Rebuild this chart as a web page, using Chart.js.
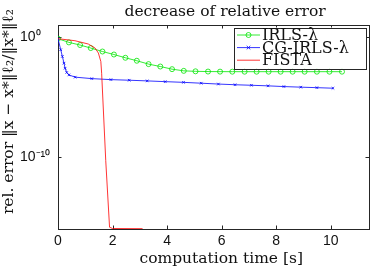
<!DOCTYPE html>
<html>
<head>
<meta charset="utf-8">
<script src="https://cdn.jsdelivr.net/npm/chart.js@4.4.0/dist/chart.umd.min.js"></script>
<style>
  html, body { margin: 0; padding: 0; background: #fff; }
  canvas { display: block; }
</style>
</head>
<body>
<canvas id="chart_err" width="374" height="269"></canvas>
<script>
// values (time in s, relative error)
var irlsTime = [0, 0.40, 0.81, 1.20, 1.63, 2.05, 2.47, 2.89, 3.32, 3.75, 4.18, 4.61, 5.04, 5.50, 5.94, 6.39, 6.84, 7.28, 7.72, 8.16, 8.60, 9.04, 9.49, 9.95, 10.41];
var irlsErr = [0.72, 0.355, 0.214, 0.12, 0.0617, 0.0347, 0.0186, 0.0105, 0.0055, 0.00347, 0.00209, 0.00151, 0.00138, 0.00132, 0.0013, 0.00129, 0.00129, 0.00129, 0.00129, 0.00129, 0.00129, 0.00129, 0.00129, 0.00129, 0.00129];

var cgTime = [0, 0.10, 0.16, 0.22, 0.26, 0.32, 0.40, 0.63, 1.24, 1.94, 2.61, 3.27, 3.93, 4.60, 5.25, 5.88, 6.49, 7.09, 7.70, 8.28, 8.90, 9.49, 10.08];
var cgErr = [0.72, 0.087, 0.024, 0.0066, 0.0025, 0.0011, 6.9e-4, 4.5e-4, 3.4e-4, 2.8e-4, 2.5e-4, 2.2e-4, 1.9e-4, 1.66e-4, 1.41e-4, 1.2e-4, 1.05e-4, 9.5e-5, 8.5e-5, 7.4e-5, 6.6e-5, 6.0e-5, 5.4e-5];

var fistaTime = [0, 0.62, 1.11, 1.36, 1.48, 1.57, 1.60, 1.75, 1.89, 2.0, 3.1];
var fistaErr = [0.72, 0.49, 0.26, 0.12, 0.046, 0.0091, 9.5e-4, 5e-11, 1.4e-16, 1.1e-16, 1.07e-16];

var seriesNames = ['IRLS-\u03bb', 'CG-IRLS-\u03bb', 'FISTA'];
var xTicks = [0, 2, 4, 6, 8, 10];
var yTicks = [1e-10, 1];
var yTickLabels = ['10\u207b\u00b9\u2070', '10\u2070'];

var serif = '"DejaVu Serif", serif';
var sans = '"Liberation Sans", Arial, sans-serif';
var axisColor = '#262626';

function pts(xs, ys) {
    return xs.map(function (x, i) {
        return { x: x, y: ys[i] };
    });
}

// box around the axes plus inward ticks on all four sides
const frame = {
    id: 'frame',
    beforeDatasetsDraw(chart) {
        const ctx = chart.ctx;
        const a = chart.chartArea;
        const sx = chart.scales.x;
        const sy = chart.scales.y;
        const tl = 3.5;
        ctx.save();
        ctx.strokeStyle = axisColor;
        ctx.lineWidth = 1;
        ctx.strokeRect(a.left + 0.5, a.top + 0.5, a.right - a.left, a.bottom - a.top);
        ctx.beginPath();
        xTicks.forEach(function (v) {
            const px = Math.round(sx.getPixelForValue(v)) + 0.5;
            ctx.moveTo(px, a.bottom);
            ctx.lineTo(px, a.bottom - tl);
            ctx.moveTo(px, a.top);
            ctx.lineTo(px, a.top + tl);
        });
        yTicks.forEach(function (v) {
            const py = Math.round(sy.getPixelForValue(v)) + 0.5;
            ctx.moveTo(a.left, py);
            ctx.lineTo(a.left + tl, py);
            ctx.moveTo(a.right, py);
            ctx.lineTo(a.right - tl, py);
        });
        ctx.stroke();
        ctx.restore();
    }
};

// matlab style legend box in the upper right corner
const legendBox = {
    id: 'legendBox',
    afterDraw(chart) {
        const ctx = chart.ctx;
        const a = chart.chartArea;
        const w = 132, h = 41;
        const left = a.right - 3 - w;
        const top = a.top + 2.5;
        ctx.save();
        ctx.fillStyle = '#fff';
        ctx.fillRect(left, top, w, h);
        ctx.strokeStyle = axisColor;
        ctx.lineWidth = 1;
        ctx.strokeRect(Math.round(left) + 0.5, Math.round(top) + 0.5, w, h);
        ctx.font = '16px ' + serif;
        ctx.textBaseline = 'middle';
        chart.data.datasets.forEach(function (ds, i) {
            const y = top + 7.5 + i * 12.6;
            const x0 = left + 3, x1 = left + 26, xm = (x0 + x1) / 2;
            ctx.strokeStyle = ds.borderColor;
            ctx.lineWidth = ds.borderWidth;
            ctx.beginPath();
            ctx.moveTo(x0, y);
            ctx.lineTo(x1, y);
            ctx.stroke();
            if (ds.pointStyle === 'circle') {
                ctx.beginPath();
                ctx.arc(xm, y, ds.pointRadius, 0, Math.PI * 2);
                ctx.stroke();
            } else if (ds.pointStyle === 'crossRot') {
                const r = ds.pointRadius;
                ctx.beginPath();
                ctx.moveTo(xm - r, y - r);
                ctx.lineTo(xm + r, y + r);
                ctx.moveTo(xm - r, y + r);
                ctx.lineTo(xm + r, y - r);
                ctx.stroke();
            }
            ctx.fillStyle = '#111';
            ctx.fillText(ds.label, left + 28, y + 1);
        });
        ctx.restore();
    }
};

function createChart() {
    const datasets = [];

    datasets.push({
        label: seriesNames[0],
        data: pts(irlsTime, irlsErr),
        borderColor: 'rgb(0, 230, 0)',
        backgroundColor: 'rgba(0, 0, 0, 0)',
        borderWidth: 0.8,
        pointStyle: 'circle',
        pointRadius: 2.5,
        pointBorderWidth: 0.8,
        pointBackgroundColor: 'rgba(0, 0, 0, 0)',
        order: 2
    });

    datasets.push({
        label: seriesNames[1],
        data: pts(cgTime, cgErr),
        borderColor: 'rgb(0, 0, 255)',
        backgroundColor: 'rgba(0, 0, 0, 0)',
        borderWidth: 0.8,
        pointStyle: 'crossRot',
        pointRadius: 1.8,
        pointBorderWidth: 0.8,
        order: 1
    });

    datasets.push({
        label: seriesNames[2],
        data: pts(fistaTime, fistaErr),
        borderColor: 'rgb(255, 0, 0)',
        backgroundColor: 'rgba(0, 0, 0, 0)',
        borderWidth: 0.8,
        pointRadius: 0,
        pointStyle: false,
        order: 0
    });

    return new Chart('chart_err', {
        type: 'line',
        data: { datasets: datasets },
        plugins: [frame, legendBox],
        options: {
            responsive: false,
            animation: false,
            layout: { padding: { left: 20, right: 5, top: 0, bottom: 0 } },
            elements: { line: { tension: 0 } },
            plugins: {
                legend: { display: false },
                tooltip: { enabled: false },
                title: {
                    display: true,
                    fullSize: false,
                    text: '\u2002\u2002\u2002decrease of relative error',
                    color: '#111',
                    font: { family: serif, size: 15.5, weight: 'normal' },
                    padding: { top: 3, bottom: 3.4 }
                }
            },
            scales: {
                x: {
                    type: 'linear',
                    min: 0,
                    max: 11.4,
                    afterBuildTicks: function (scale) {
                        scale.ticks = xTicks.map(function (v) { return { value: v }; });
                    },
                    afterFit: function (scale) { scale.height = 40; },
                    grid: { drawOnChartArea: false, drawTicks: false },
                    border: { display: false },
                    ticks: {
                        padding: 4,
                        color: '#111',
                        font: { family: sans, size: 14 },
                        maxRotation: 0,
                        callback: function (v) { return String(v); }
                    },
                    title: {
                        display: true,
                        text: '\u2003computation time [s]',
                        color: '#111',
                        font: { family: serif, size: 15.5 },
                        padding: { top: 0, bottom: 1 }
                    }
                },
                y: {
                    type: 'logarithmic',
                    min: 1e-16,
                    max: 10,
                    afterBuildTicks: function (scale) {
                        scale.ticks = yTicks.map(function (v) { return { value: v }; });
                    },
                    afterFit: function (scale) { scale.width = 38; },
                    grid: { drawOnChartArea: false, drawTicks: false },
                    border: { display: false },
                    ticks: {
                        crossAlign: 'far',
                        color: '#111',
                        font: { family: sans, size: 14 },
                        callback: function (v) {
                            const i = yTicks.indexOf(v);
                            return i >= 0 ? yTickLabels[i] : '';
                        }
                    },
                    title: {
                        display: true,
                        text: '\u2003\u2003rel. error \u2016x \u2212 x*\u2016\u2113\u2082/\u2016x*\u2016\u2113\u2082',
                        color: '#111',
                        font: { family: serif, size: 15.5 },
                        padding: { top: -20, bottom: 0 }
                    }
                }
            }
        }
    });
}

createChart();
</script>
</body>
</html>
